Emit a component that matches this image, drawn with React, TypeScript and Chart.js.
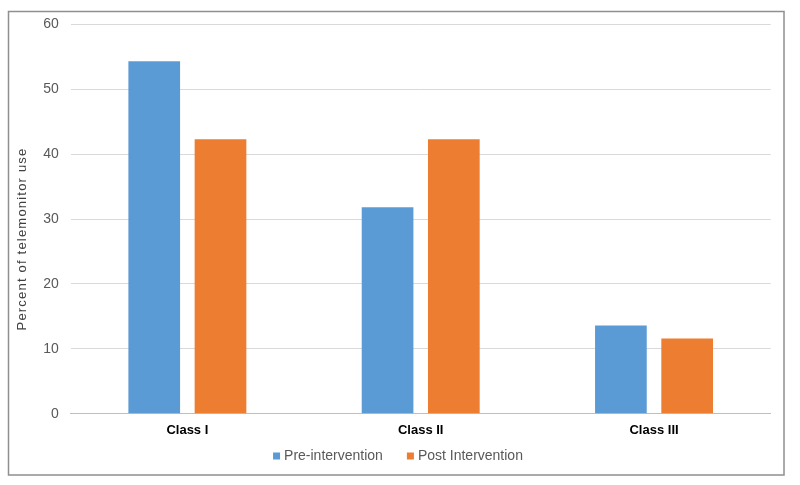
import React, { useEffect, useRef } from "react";
import { Chart, registerables } from "chart.js";

Chart.register(...registerables);

const categories = ["Class I", "Class II", "Class III"];
const preIntervention = [54.3, 31.8, 13.6];
const postIntervention = [42.3, 42.3, 11.6];
const seriesLabels = ["Pre-intervention", "Post Intervention"];
const yTicks = [0, 10, 20, 30, 40, 50, 60];
const yTitle = "Percent of telemonitor use";

const FONT = "'Liberation Sans', Arial, sans-serif";

const decorPlugin = {
  id: "decor",
  afterDraw(chart: any) {
    const ctx = chart.ctx;
    ctx.save();
    // outer border
    ctx.strokeStyle = "#8f8f8f";
    ctx.lineWidth = 1.5;
    ctx.strokeRect(8.5, 11.5, 775.5, 463.5);
    // y-axis title
    ctx.fillStyle = "#404040";
    ctx.font = `13px ${FONT}`;
    try {
      (ctx as any).letterSpacing = "1.2px";
    } catch (e) {}
    ctx.textAlign = "center";
    ctx.textBaseline = "middle";
    ctx.translate(22, 239);
    ctx.rotate(-Math.PI / 2);
    ctx.fillText(yTitle, 0, 0);
    ctx.restore();

    // legend
    ctx.save();
    ctx.font = `14px ${FONT}`;
    try {
      (ctx as any).letterSpacing = "0px";
    } catch (e) {}
    ctx.textBaseline = "middle";
    ctx.textAlign = "left";
    const box = 7;
    const gapBoxText = 4;
    const gapItems = 24;
    const items = chart.data.datasets.map((d: any) => ({
      label: d.label,
      color: d.backgroundColor,
      w: ctx.measureText(d.label).width,
    }));
    const total = items.reduce((s: number, it: any) => s + box + gapBoxText + it.w, 0) + gapItems * (items.length - 1);
    let x = 398 - total / 2;
    const y = 456;
    for (const it of items) {
      ctx.fillStyle = it.color;
      ctx.fillRect(x, y - box / 2, box, box);
      x += box + gapBoxText;
      ctx.fillStyle = "#595959";
      ctx.fillText(it.label, x, y + 0.5);
      x += it.w + gapItems;
    }
    ctx.restore();
  },
};

export default function App() {
  const ref = useRef<HTMLCanvasElement | null>(null);
  useEffect(() => {
    if (!ref.current) return;
    const chart = new Chart(ref.current, {
      type: "bar",
      data: {
        labels: categories,
        datasets: [
          {
            label: seriesLabels[0],
            data: preIntervention,
            backgroundColor: "#5B9BD5",
            categoryPercentage: 0.568,
            barPercentage: 0.78,
          },
          {
            label: seriesLabels[1],
            data: postIntervention,
            backgroundColor: "#ED7D31",
            categoryPercentage: 0.568,
            barPercentage: 0.78,
          },
        ],
      },
      options: {
        responsive: false,
        animation: false,
        devicePixelRatio: 1,
        layout: { padding: { left: 0, right: 29.3, top: 24.3, bottom: 0 } },
        plugins: {
          legend: { display: false },
          tooltip: { enabled: false },
        },
        scales: {
          x: {
            grid: { display: false, drawTicks: false },
            border: { display: true, color: "#bfbfbf", width: 1 },
            ticks: {
              padding: 8.5,
              color: "#000000",
              font: { family: FONT, size: 13, weight: "bold" },
            },
            afterFit: (s: any) => {
              s.height = 485 - 413.7;
            },
          },
          y: {
            min: 0,
            max: 60,
            afterBuildTicks: (s: any) => {
              s.ticks = yTicks.map((v) => ({ value: v }));
            },
            grid: { color: "#d9d9d9", drawTicks: false, lineWidth: 1 },
            border: { display: false },
            ticks: {
              padding: 12,
              color: "#595959",
              font: { family: FONT, size: 14 },
            },
            afterFit: (s: any) => {
              s.width = 70.7;
            },
          },
        },
      },
      plugins: [decorPlugin],
    });
    return () => chart.destroy();
  }, []);
  return (
    <div style={{ position: "fixed", left: 0, top: 0, width: 800, height: 485, background: "#fff" }}>
      <canvas ref={ref} width={800} height={485} style={{ display: "block" }} />
    </div>
  );
}
